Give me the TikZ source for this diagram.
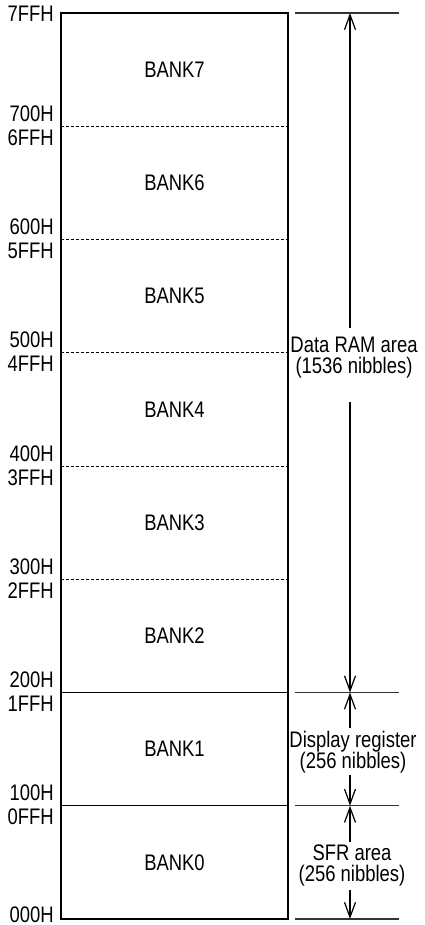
\documentclass[tikz,border=0pt]{standalone}
\usepackage{fontspec}
\setmainfont{Liberation Sans}[FakeStretch=0.82]
\usetikzlibrary{arrows.meta}
\begin{document}
\begin{tikzpicture}[x=1pt,y=-1pt,
  every node/.style={font=\fontsize{22.5}{21}\selectfont, inner sep=0pt},
  addr/.style={anchor=base east},
  bank/.style={anchor=center},
  note/.style={align=center, anchor=center},
  frame/.style={line width=2.6pt},
  dotdiv/.style={line width=1pt, dash pattern=on 3pt off 2pt},
  soliddiv/.style={line width=1.3pt},
  tick/.style={line width=1.3pt, draw=black!80},
  dim/.style={line width=1.2pt, -{Straight Barb[length=15pt,width=11pt,line width=1.2pt]}}
]
\useasboundingbox (0,0) rectangle (424,925);

% frame
\draw[frame] (61,13) rectangle (288,919);
% dividers
\draw[dotdiv] (61,126.25) -- (288,126.25);
\draw[dotdiv] (61,239.5) -- (288,239.5);
\draw[dotdiv] (61,352.75) -- (288,352.75);
\draw[dotdiv] (61,466) -- (288,466);
\draw[dotdiv] (61,579.25) -- (288,579.25);
\draw[soliddiv] (61,692.5) -- (288,692.5);
\draw[soliddiv] (61,805.75) -- (288,805.75);

% bank labels
\node[bank] (b7) at (174.5,69.6) {BANK7};
\node[bank] (b6) at (174.5,182.9) {BANK6};
\node[bank] (b5) at (174.5,296.1) {BANK5};
\node[bank] (b4) at (174.5,409.4) {BANK4};
\node[bank] (b3) at (174.5,522.6) {BANK3};
\node[bank] (b2) at (174.5,635.9) {BANK2};
\node[bank] (b1) at (174.5,749.1) {BANK1};
\node[bank] (b0) at (174.5,862.4) {BANK0};

% address labels
\node[addr] (l7ff) at (54,22) {7FFH};
\node[addr] (l700) at (54,121.5) {700H};
\node[addr] (l6ff) at (54,145.5) {6FFH};
\node[addr] (l600) at (54,234.5) {600H};
\node[addr] (l5ff) at (54,258.5) {5FFH};
\node[addr] (l500) at (54,347.8) {500H};
\node[addr] (l4ff) at (54,371.8) {4FFH};
\node[addr] (l400) at (54,461) {400H};
\node[addr] (l3ff) at (54,485) {3FFH};
\node[addr] (l300) at (54,574.3) {300H};
\node[addr] (l2ff) at (54,598.3) {2FFH};
\node[addr] (l200) at (54,687.5) {200H};
\node[addr] (l1ff) at (54,711.5) {1FFH};
\node[addr] (l100) at (54,800.8) {100H};
\node[addr] (l0ff) at (54,824.8) {0FFH};
\node[addr] (l000) at (54,922) {000H};

% right ticks
\coordinate (t7L) at (295,13);      \coordinate (t7R) at (399,13);
\coordinate (t2L) at (295,692.5);   \coordinate (t2R) at (399,692.5);
\coordinate (t1L) at (295,805.75);  \coordinate (t1R) at (399,805.75);
\coordinate (t0L) at (295,919);     \coordinate (t0R) at (399,919);
\draw[tick] (t7L) -- (t7R);
\draw[tick] (t2L) -- (t2R);
\draw[tick] (t1L) -- (t1R);
\draw[tick] (t0L) -- (t0R);

\coordinate (a7) at (350,13);
\coordinate (a2) at (350,692.5);
\coordinate (a1) at (350,805.75);
\coordinate (a0) at (350,919);

% notes
\node[note] (dram) at (354,358) {Data RAM area\\(1536 nibbles)};
\node[note] (disp) at (353,752) {Display register\\(256 nibbles)};
\node[note] (sfr) at (352,865) {SFR area\\(256 nibbles)};

\coordinate (g1) at (350,328);
\coordinate (g2) at (350,402);
\coordinate (g3) at (350,728);
\coordinate (g4) at (350,775);
\coordinate (g5) at (350,842);
\coordinate (g6) at (350,890);

\draw[dim] (g1) -- (a7);
\draw[dim] (g2) -- (a2);
\draw[dim] (g3) -- (a2);
\draw[dim] (g4) -- (a1);
\draw[dim] (g5) -- (a1);
\draw[dim] (g6) -- (a0);
\end{tikzpicture}
\end{document}
